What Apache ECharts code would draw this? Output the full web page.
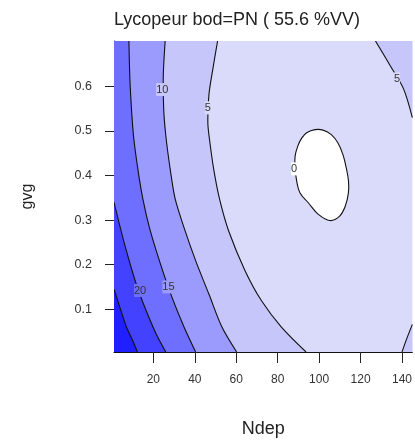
<!DOCTYPE html>
<html>
<head>
<meta charset="utf-8">
<script src="https://cdn.jsdelivr.net/npm/echarts@6/dist/echarts.min.js"></script>
<style>
html,body{margin:0;padding:0;background:#fff;}
#chart{width:415px;height:443px;}
</style>
</head>
<body>
<div id="chart"></div>
<script>
// ---- axis ranges and ticks ----
const xMin = 1, xMax = 145;
const yMin = 0.004, yMax = 0.702;
const xTicks = [20, 40, 60, 80, 100, 120, 140];
const yTicks = [0.1, 0.2, 0.3, 0.4, 0.5, 0.6];

// ---- contour levels and band colours ----
const levels = [0, 5, 10, 15, 20, 25];
const colBelow0 = '#ffffff';
const col0to5 = '#dadafa';
const col5to10 = '#c6c6fa';
const col10to15 = '#9b9bfe';
const col15to20 = '#6e6eff';
const col20to25 = '#4343ff';
const colAbove25 = '#1f1fff';

// ---- contour lines [Ndep, gvg] ----
const contour25 = [[1, 0.145], [4, 0.102], [7, 0.06], [10, 0.03], [12.3, 0.004]];
const contour20 = [[1, 0.34], [6.1, 0.246], [11.7, 0.157], [16.5, 0.097], [21.3, 0.045], [26, 0.004]];
const contour15 = [[8.2, 0.702], [8.8, 0.602], [10.4, 0.49], [12.5, 0.415], [14.9, 0.348], [18.1, 0.283],
                   [22.9, 0.209], [28.4, 0.134], [34.8, 0.06], [40.4, 0.004]];
const contour10 = [[25.7, 0.702], [24.8, 0.626], [25.0, 0.548], [26.0, 0.49], [28.1, 0.415], [30.5, 0.348],
                   [34.8, 0.283], [40.4, 0.209], [46.8, 0.134], [53.1, 0.06], [60.2, 0.004]];
const contour5Left = [[51.0, 0.702], [48.7, 0.639], [46.8, 0.581], [46.3, 0.518], [47.1, 0.481], [49.1, 0.415],
                      [51.9, 0.348], [56.3, 0.276], [64.3, 0.186], [72.2, 0.119], [81.8, 0.06], [93.7, 0.004]];
const contour5TopRight = [[127.2, 0.702], [134.4, 0.646], [140.8, 0.594], [145, 0.53]];
const contour5BottomRight = [[145, 0.066], [142.3, 0.034], [140.0, 0.004]];
const contour0 = [[98.0, 0.503], [101.9, 0.502], [105.9, 0.492], [109.1, 0.473], [111.5, 0.447], [113.1, 0.417],
                  [114.2, 0.387], [114.1, 0.360], [112.6, 0.331], [109.9, 0.309], [105.2, 0.299], [99.6, 0.313],
                  [94.8, 0.339], [90.8, 0.361], [89.2, 0.387], [88.4, 0.418], [88.4, 0.443], [89.7, 0.466],
                  [91.6, 0.484], [94.0, 0.496]];

// ---- contour labels ----
const labelText = ['10', '5', '5', '0', '20', '15'];
const labelX = [24.3, 46.3, 137.6, 87.9, 13.6, 27.3];
const labelY = [0.593, 0.552, 0.617, 0.415, 0.142, 0.15];
const labelBg = [col5to10, col0to5, col0to5, colBelow0, col15to20, col10to15];

// ---- build filled regions (drawn in order) ----
const regions = [
  { pts: contour5Left.concat([[xMin, yMin], [xMin, yMax]]), color: col5to10 },
  { pts: contour5TopRight.concat([[xMax, yMax]]), color: col5to10 },
  { pts: contour5BottomRight.concat([[xMax, yMin]]), color: col5to10 },
  { pts: contour10.concat([[xMin, yMin], [xMin, yMax]]), color: col10to15 },
  { pts: contour15.concat([[xMin, yMin], [xMin, yMax]]), color: col15to20 },
  { pts: contour20.concat([[xMin, yMin]]), color: col20to25 },
  { pts: contour25.concat([[xMin, yMin]]), color: colAbove25 },
  { pts: contour0, color: colBelow0, smooth: true }
];
const lines = [
  { pts: contour25, closed: false },
  { pts: contour20, closed: false },
  { pts: contour15, closed: false },
  { pts: contour10, closed: false },
  { pts: contour5Left, closed: false },
  { pts: contour5TopRight, closed: false },
  { pts: contour5BottomRight, closed: false },
  { pts: contour0, closed: true }
];

const chart = echarts.init(document.getElementById('chart'), null, { renderer: 'canvas' });
const FONT = '"Liberation Sans", Arial, sans-serif';

const option = {
  animation: false,
  backgroundColor: '#ffffff',
  title: {
    text: 'Lycopeur bod=PN ( 55.6 %VV)',
    left: 114, top: 11, padding: 0,
    textStyle: { fontSize: 18, fontWeight: 'normal', color: '#222', fontFamily: FONT }
  },
  grid: {
    left: 114, right: 0, top: 41, bottom: 90,
    show: true, backgroundColor: col0to5, borderWidth: 0
  },
  xAxis: {
    type: 'value', min: xMin, max: xMax,
    name: 'Ndep', nameLocation: 'middle', nameGap: 68,
    nameTextStyle: { fontSize: 18, color: '#222', fontFamily: FONT },
    axisLine: { show: true, onZero: false, lineStyle: { color: '#111', width: 1 } },
    axisTick: { show: true, customValues: xTicks, length: 11, lineStyle: { color: '#222' } },
    axisLabel: { customValues: xTicks, margin: 22, fontSize: 12, color: '#333', fontFamily: FONT },
    splitLine: { show: false }
  },
  yAxis: {
    type: 'value', min: yMin, max: yMax,
    name: 'gvg', nameLocation: 'middle', nameGap: 78,
    nameTextStyle: { fontSize: 16, color: '#222', fontFamily: FONT },
    axisLine: { show: true, onZero: false, lineStyle: { color: '#111', width: 1 } },
    axisTick: { show: true, customValues: yTicks, length: 9, lineStyle: { color: '#222' } },
    axisLabel: { customValues: yTicks, margin: 22, fontSize: 12.5, color: '#333', fontFamily: FONT,
                 formatter: v => v.toFixed(1) },
    splitLine: { show: false }
  },
  series: [
    {
      type: 'custom', name: 'bands', clip: true, z: 1,
      data: regions.map((r, i) => [i]),
      renderItem: function (params, api) {
        const r = regions[params.dataIndex];
        return {
          type: 'polygon',
          shape: { points: r.pts.map(p => api.coord(p)), smooth: r.smooth ? 0.4 : 0 },
          style: { fill: r.color, stroke: null }
        };
      }
    },
    {
      type: 'custom', name: 'contours', clip: true, z: 2,
      data: lines.map((l, i) => [i]),
      renderItem: function (params, api) {
        const l = lines[params.dataIndex];
        return {
          type: l.closed ? 'polygon' : 'polyline',
          shape: { points: l.pts.map(p => api.coord(p)), smooth: l.closed ? 0.4 : 0.3 },
          style: { fill: null, stroke: '#111', lineWidth: 1.1 }
        };
      }
    },
    {
      type: 'custom', name: 'labels', z: 3,
      data: labelText.map((t, i) => [labelX[i], labelY[i], i]),
      renderItem: function (params, api) {
        const i = params.dataIndex;
        const c = api.coord([labelX[i], labelY[i]]);
        return {
          type: 'text', x: c[0], y: c[1],
          style: {
            text: labelText[i], fill: '#333', font: '11px ' + FONT,
            align: 'center', verticalAlign: 'middle',
            backgroundColor: labelBg[i], padding: [1, 0]
          }
        };
      }
    }
  ]
};
chart.setOption(option);
</script>
</body>
</html>
